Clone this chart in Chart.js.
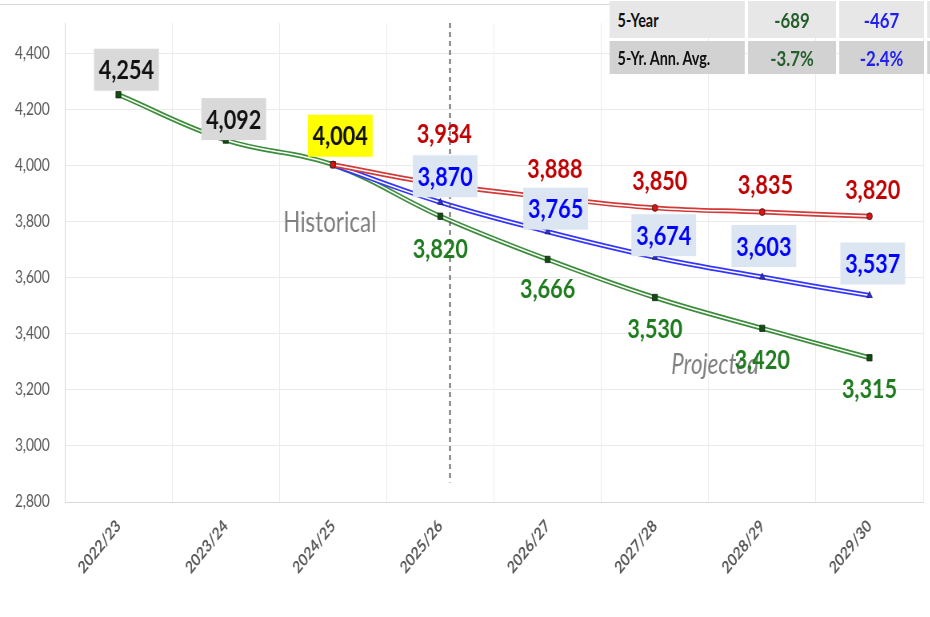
<!DOCTYPE html>
<html>
<head>
<meta charset="utf-8">
<script src="https://cdn.jsdelivr.net/npm/chart.js@4.4.1/dist/chart.umd.min.js"></script>
<style>
  html, body { margin: 0; padding: 0; background: #fff; }
  #wrap { position: relative; width: 930px; height: 617px; overflow: hidden; }
  /* la imagen original está comprimida en horizontal: dibujamos ancho y escalamos */
  #stage { position: absolute; left: 0; top: 0; width: 1163px; height: 617px;
           transform: scaleX(0.8); transform-origin: 0 0; }
  #topline { position: absolute; left: 0; top: 4px; width: 762px; height: 1px; background: #d9d9d9; }
  #summary { position: absolute; left: 758px; top: -2px; width: 470px; table-layout: fixed;
             border-collapse: separate; border-spacing: 4px 3px;
             font-family: Lato, "Liberation Sans", Arial, sans-serif; font-weight: bold; white-space: nowrap; }
  #summary td { padding: 0 10px; overflow: hidden; }
  #summary tr:nth-child(1) td { background: #e7e7e7; height: 37px; }
  #summary tr:nth-child(2) td { background: #d2d2d2; height: 33px; }
  #summary td.lab { width: 149px; font-size: 18px; color: #111; }
  #summary td.g { width: 90px; text-align: center; font-size: 21px; color: #245e2a; }
  #summary td.b { width: 86px; text-align: center; font-size: 21px; color: #2020f0; }
  #summary td.x { width: 60px; }
</style>
</head>
<body>
<div id="wrap">
 <div id="stage">
  <canvas id="enrollChart" width="1163" height="617"></canvas>
  <div id="topline"></div>
  <table id="summary"></table>
 </div>
</div>
<script>
// Datos del gráfico
const years = ['2022/23', '2023/24', '2024/25', '2025/26', '2026/27', '2027/28', '2028/29', '2029/30'];
const greenSeries = [4254, 4092, 4004, 3820, 3666, 3530, 3420, 3315];
const redSeries = [null, null, 4004, 3934, 3888, 3850, 3835, 3820];
const blueSeries = [null, null, 4004, 3870, 3765, 3674, 3603, 3537];
const yTicks = [2800, 3000, 3200, 3400, 3600, 3800, 4000, 4200, 4400];

// Tabla resumen (arriba a la derecha)
const tableLabels = ['5-Year', '5-Yr. Ann. Avg.'];
const tableGreen = ['-689', '-3.7%'];
const tableBlue = ['-467', '-2.4%'];

const FONT = 'Lato, "Liberation Sans", Arial, sans-serif';

// Construir la tabla
const tbl = document.getElementById('summary');
tableLabels.forEach((lab, i) => {
    const tr = document.createElement('tr');
    tr.innerHTML = '<td class="lab">' + lab + '</td><td class="g">' + tableGreen[i] +
        '</td><td class="b">' + tableBlue[i] + '</td><td class="x"></td>';
    tbl.appendChild(tr);
});

// Estilo de etiquetas por serie: desplazamientos y fondos
const labelStyles = {
    green: { color: '#1e7b1e', dx: [10, 10, 9, 0, 0, 0, 0, 0], dy: [-25, -21, -29, 32, 29, 31, 31, 31],
             bg: ['#d9d9d9', '#d9d9d9', '#ffff00', null, null, null, null, null],
             text: ['#111', '#111', '#111', null, null, null, null, null] },
    red: { color: '#c00000', dx: [0, 0, null, 5, 9, 6, 4, 4], dy: [0, 0, null, -51, -29, -28, -28, -27], bg: [], text: [] },
    blue: { color: '#0000ff', dx: [0, 0, null, 6, 10, 11, 2, 4], dy: [0, 0, null, -26, -23, -22, -31, -32],
            bg: [null, null, null, '#dce6f2', '#dce6f2', '#dce6f2', '#dce6f2', '#dce6f2'], text: [] }
};

// Plugin: etiquetas, línea divisoria y textos
const annotate = {
    id: 'annotate',
    afterDatasetsDraw(chart) {
        const ctx = chart.ctx;
        const xs = chart.scales.x, ys = chart.scales.y;

        // línea discontinua vertical
        const dx = xs.getPixelForValue(3.09);
        ctx.save();
        ctx.strokeStyle = '#555';
        ctx.lineWidth = 1.8;
        ctx.setLineDash([5, 4]);
        ctx.beginPath();
        ctx.moveTo(dx, chart.chartArea.top);
        ctx.lineTo(dx, ys.getPixelForValue(2870));
        ctx.stroke();
        ctx.restore();

        // textos Historical / Projected
        ctx.save();
        ctx.fillStyle = '#7f7f7f';
        ctx.textAlign = 'center';
        ctx.textBaseline = 'middle';
        ctx.font = '28px ' + FONT;
        ctx.fillText('Historical', xs.getPixelForValue(1.97), ys.getPixelForValue(3795));
        ctx.font = 'italic 28px ' + FONT;
        ctx.fillText('Projected', xs.getPixelForValue(5.56), ys.getPixelForValue(3290));
        ctx.restore();

        // etiquetas de datos
        const sets = [['green', 1], ['red', 5], ['blue', 3]];
        sets.forEach(([key, dsIndex]) => {
            const st = labelStyles[key];
            const meta = chart.getDatasetMeta(dsIndex);
            const data = chart.data.datasets[dsIndex].data;
            meta.data.forEach((pt, i) => {
                if (data[i] == null || st.dx[i] == null) return;
                const txt = data[i].toLocaleString('en-US');
                const x = pt.x + st.dx[i];
                const y = pt.y + st.dy[i];
                ctx.save();
                ctx.font = 'bold 27px ' + FONT;
                ctx.textAlign = 'center';
                ctx.textBaseline = 'middle';
                const w = ctx.measureText(txt).width;
                if (st.bg[i]) {
                    ctx.fillStyle = st.bg[i];
                    ctx.fillRect(x - w / 2 - 6, y - 21, w + 12, 42);
                }
                ctx.fillStyle = st.text[i] || st.color;
                ctx.fillText(txt, x, y + 1);
                ctx.restore();
            });
        });
    }
};

function outer(data, color, order) {
    return { data: data, borderColor: color, borderWidth: 5, pointRadius: 0, tension: 0.4,
             fill: false, order: order };
}
function inner(data, pointColor, style, radius, order) {
    return { data: data, borderColor: '#ffffff', borderWidth: 1.5, tension: 0.4, fill: false,
             pointStyle: style, pointRadius: radius, pointBackgroundColor: pointColor,
             pointBorderColor: '#222', pointBorderWidth: 0.8, order: order };
}

const ctx = document.getElementById('enrollChart').getContext('2d');
const chart = new Chart(ctx, {
    type: 'line',
    data: {
        labels: years,
        datasets: [
            outer(greenSeries, '#3c8c3c', 6),
            inner(greenSeries, '#0e4f0e', 'rect', 4.5, 5),
            outer(blueSeries, '#3434ff', 4),
            inner(blueSeries, '#2a2aff', 'triangle', 4, 3),
            outer(redSeries, '#d23a3a', 2),
            inner(redSeries, '#e01010', 'circle', 3.5, 1)
        ]
    },
    options: {
        responsive: false,
        animation: false,
        devicePixelRatio: 1,
        layout: { padding: { top: 23, right: 9, left: 0, bottom: 0 } },
        plugins: { legend: { display: false }, tooltip: { enabled: false } },
        scales: {
            x: {
                offset: true,
                grid: { offset: true, color: '#ebebeb', drawTicks: false },
                border: { color: '#d9d9d9' },
                ticks: {
                    color: '#595959',
                    font: { family: FONT, size: 17, weight: 'bold' },
                    maxRotation: 45, minRotation: 45,
                    padding: 14
                },
                afterFit: s => { s.height = 115; }
            },
            y: {
                min: 2800,
                max: 4510,
                afterBuildTicks: s => { s.ticks = yTicks.map(v => ({ value: v })); },
                grid: { color: '#ebebeb', drawTicks: false },
                border: { color: '#d9d9d9' },
                ticks: {
                    color: '#595959',
                    font: { family: FONT, size: 17 },
                    padding: 19,
                    callback: v => v.toLocaleString('en-US')
                },
                afterFit: s => { s.width = 81; s.paddingTop = 0; s.paddingBottom = 0; }
            }
        }
    },
    plugins: [annotate]
});
</script>
</body>
</html>
